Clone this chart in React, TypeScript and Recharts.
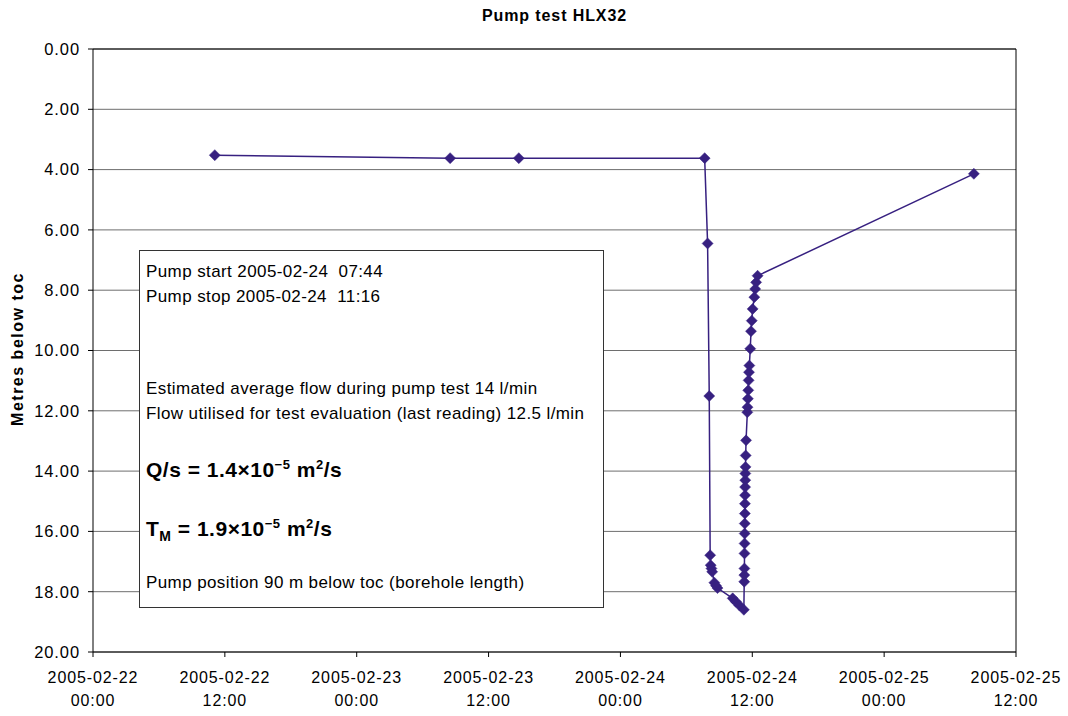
import React from "react";
import {
  LineChart,
  Line,
  XAxis,
  YAxis,
  CartesianGrid,
  ReferenceLine,
} from "recharts";

// readings: time of reading and water level (metres below top of casing)
const readingTimes: string[] = [
  "2005-02-22 11:05",
  "2005-02-23 08:30",
  "2005-02-23 14:45",
  "2005-02-24 07:40",
  "2005-02-24 07:56",
  "2005-02-24 08:05",
  "2005-02-24 08:10",
  "2005-02-24 08:13",
  "2005-02-24 08:17",
  "2005-02-24 08:21",
  "2005-02-24 08:33",
  "2005-02-24 08:42",
  "2005-02-24 08:50",
  "2005-02-24 10:13",
  "2005-02-24 10:30",
  "2005-02-24 10:49",
  "2005-02-24 11:14",
  "2005-02-24 11:16:00",
  "2005-02-24 11:16:30",
  "2005-02-24 11:17:00",
  "2005-02-24 11:17:30",
  "2005-02-24 11:18:00",
  "2005-02-24 11:18:30",
  "2005-02-24 11:19:00",
  "2005-02-24 11:19:30",
  "2005-02-24 11:20:00",
  "2005-02-24 11:20:30",
  "2005-02-24 11:21:00",
  "2005-02-24 11:21:30",
  "2005-02-24 11:22:00",
  "2005-02-24 11:23:00",
  "2005-02-24 11:24:00",
  "2005-02-24 11:26:00",
  "2005-02-24 11:33:00",
  "2005-02-24 11:34:00",
  "2005-02-24 11:36:00",
  "2005-02-24 11:38:00",
  "2005-02-24 11:40:00",
  "2005-02-24 11:42:00",
  "2005-02-24 11:44:00",
  "2005-02-24 11:49:00",
  "2005-02-24 11:53:00",
  "2005-02-24 11:57:00",
  "2005-02-24 12:02:00",
  "2005-02-24 12:11:00",
  "2005-02-24 12:16:00",
  "2005-02-24 12:21:00",
  "2005-02-24 12:29:00",
  "2005-02-25 08:10",
];

const levels: number[] = [
  3.52, 3.62, 3.62, 3.62, 6.45, 11.51, 16.79, 17.12, 17.23, 17.34, 17.7,
  17.8, 17.88, 18.22, 18.33, 18.45, 18.6,
  17.67, 17.45, 17.23, 16.73, 16.4, 16.07, 15.74, 15.41, 15.08, 14.8, 14.53,
  14.3, 14.08, 13.86, 13.48, 12.98, 12.05, 11.88, 11.6, 11.32, 10.99, 10.72,
  10.5, 9.94, 9.36, 9.01, 8.62, 8.23, 7.96, 7.74, 7.52, 4.14,
];

const xTicks: number[] = [0, 12, 24, 36, 48, 60, 72, 84];
const xTickDates: string[] = [
  "2005-02-22",
  "2005-02-22",
  "2005-02-23",
  "2005-02-23",
  "2005-02-24",
  "2005-02-24",
  "2005-02-25",
  "2005-02-25",
];
const xTickTimes: string[] = ["00:00", "12:00", "00:00", "12:00", "00:00", "12:00", "00:00", "12:00"];
const yTicks: number[] = [0, 2, 4, 6, 8, 10, 12, 14, 16, 18, 20];

const START = Date.UTC(2005, 1, 22, 0, 0, 0);

// hours since 2005-02-22 00:00
const toHours = (s: string) => {
  const [d, t] = s.split(" ");
  const [yy, mm, dd] = d.split("-").map(Number);
  const [h, mi, se] = t.split(":").map(Number);
  return (Date.UTC(yy, mm - 1, dd, h, mi, se || 0) - START) / 3600000;
};

const data = readingTimes.map((t, i) => ({ t: toHours(t), level: levels[i] }));

const LINE_COLOR = "#372080";
const FONT = "'Liberation Sans', Arial, sans-serif";

const Diamond = (props: any) => {
  const { cx, cy, index } = props;
  if (cx == null || cy == null) return null;
  const r = 5.5;
  return (
    <polygon
      key={`d-${index}`}
      points={`${cx},${cy - r} ${cx + r},${cy} ${cx},${cy + r} ${cx - r},${cy}`}
      fill={LINE_COLOR}
      stroke={LINE_COLOR}
      strokeWidth={0.5}
    />
  );
};

const XTick = (props: any) => {
  const { x, y, payload } = props;
  const i = xTicks.indexOf(payload.value);
  return (
    <g>
      <line x1={x} y1={y - 8} x2={x} y2={y - 3} stroke="#000" />
      <text x={x} y={y + 23} textAnchor="middle" fontFamily={FONT} fontSize={16} letterSpacing={0.9} fill="#000">
        {xTickDates[i]}
      </text>
      <text x={x} y={y + 46} textAnchor="middle" fontFamily={FONT} fontSize={16} letterSpacing={0.9} fill="#000">
        {xTickTimes[i]}
      </text>
    </g>
  );
};

const lineStyle: React.CSSProperties = {
  position: "absolute",
  left: 6,
  whiteSpace: "nowrap",
  fontSize: 17,
  letterSpacing: 0.4,
  lineHeight: "20px",
};

const bigStyle: React.CSSProperties = {
  ...lineStyle,
  fontSize: 21,
  fontWeight: "bold",
  lineHeight: "24px",
  letterSpacing: 0.5,
};

export default function App() {
  return (
    <div style={{ position: "absolute", left: 0, top: 0, width: 1068, height: 716, background: "#fff", fontFamily: FONT }}>
      <div
        style={{
          position: "absolute",
          left: 0,
          width: 1109,
          top: 7,
          textAlign: "center",
          fontWeight: "bold",
          fontSize: 16,
          letterSpacing: 0.9,
        }}
      >
        Pump test HLX32
      </div>
      <div
        style={{
          position: "absolute",
          left: 18,
          top: 349,
          transform: "translate(-50%, -50%) rotate(-90deg)",
          whiteSpace: "nowrap",
          fontWeight: "bold",
          fontSize: 16,
          letterSpacing: 1.5,
        }}
      >
        Metres below toc
      </div>
      <LineChart
        width={1068}
        height={716}
        data={data}
        margin={{ top: 49, right: 52, bottom: 0, left: 0 }}
      >
        <CartesianGrid vertical={false} stroke="#6e6e6e" />
        <XAxis
          dataKey="t"
          type="number"
          domain={[0, 84]}
          ticks={xTicks}
          height={64}
          stroke="#000"
          tickLine={false}
          tick={<XTick />}
          interval={0}
        />
        <YAxis
          type="number"
          reversed
          domain={[0, 20]}
          ticks={yTicks}
          width={93}
          stroke="#000"
          tickSize={5}
          tickMargin={8}
          interval={0}
          tickFormatter={(v: number) => v.toFixed(2)}
          tick={{ fill: "#000", fontSize: 16.5, fontFamily: FONT, letterSpacing: 0.9 }}
        />
        <ReferenceLine y={0} stroke="#000" />
        <ReferenceLine x={84} stroke="#000" />
        <Line
          dataKey="level"
          stroke={LINE_COLOR}
          strokeWidth={1.5}
          dot={Diamond}
          activeDot={false}
          isAnimationActive={false}
        />
      </LineChart>
      <div
        style={{
          position: "absolute",
          left: 139,
          top: 250,
          width: 465,
          height: 358,
          boxSizing: "border-box",
          border: "1px solid #333",
          background: "#fff",
          color: "#000",
        }}
      >
        <div style={{ ...lineStyle, top: 11 }}>Pump start 2005-02-24&nbsp;&nbsp;07:44</div>
        <div style={{ ...lineStyle, top: 36 }}>Pump stop 2005-02-24&nbsp;&nbsp;11:16</div>
        <div style={{ ...lineStyle, top: 128 }}>Estimated average flow during pump test 14 l/min</div>
        <div style={{ ...lineStyle, top: 153 }}>Flow utilised for test evaluation (last reading) 12.5 l/min</div>
        <div style={{ ...bigStyle, top: 202 }}>
          Q/s = 1.4×10<sup style={{ fontSize: 13 }}>−5</sup> m<sup style={{ fontSize: 13 }}>2</sup>/s
        </div>
        <div style={{ ...bigStyle, top: 261 }}>
          T<sub style={{ fontSize: 14 }}>M</sub> = 1.9×10<sup style={{ fontSize: 13 }}>−5</sup> m<sup style={{ fontSize: 13 }}>2</sup>/s
        </div>
        <div style={{ ...lineStyle, top: 322 }}>Pump position 90 m below toc (borehole length)</div>
      </div>
    </div>
  );
}
